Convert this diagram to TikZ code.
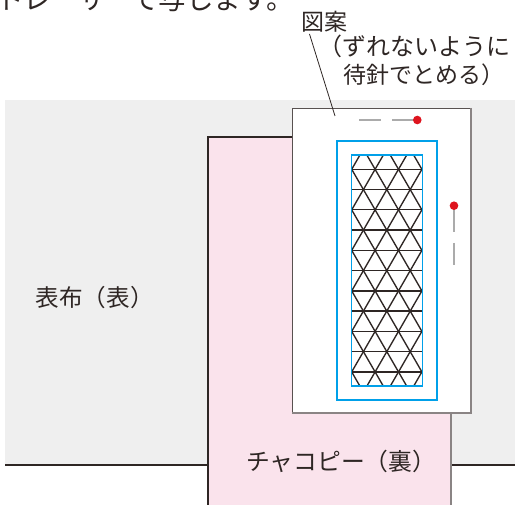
\documentclass[tikz,border=0pt]{standalone}
\usepackage{fontspec}
\setmainfont{Noto Sans CJK JP}
\definecolor{bggray}{HTML}{EFEFEF}
\definecolor{pinkfill}{HTML}{FAE3EC}
\definecolor{cyanline}{RGB}{0,160,233}
\definecolor{pinred}{RGB}{222,20,30}
\definecolor{pingray}{HTML}{ABABAB}
\definecolor{inkc}{HTML}{2E2624}
\definecolor{edgegray}{HTML}{8A8484}
\tikzset{
  gridline/.style={draw=inkc, line width=1.35pt},
  bluebox/.style={draw=cyanline, line width=1.4pt},
  pinline/.style={draw=pingray, line width=1.1pt},
  pinhead/.style={fill=pinred, draw=none},
  lbl/.style={inner sep=0pt, text=inkc, font=\fontsize{23}{27}\selectfont},
}
\begin{document}
\begin{tikzpicture}[x=1pt,y=-1pt]
\useasboundingbox (0,0) rectangle (515,505);
\begin{scope}
\clip (0,0) rectangle (515,505);
\node[lbl, anchor=base west, font=\fontsize{27.5}{30}\selectfont] (cut) at (-4,10) {トレーサーで写します。};
\end{scope}
% background fabric
\fill[bggray] (5,100) rectangle (515,465);
\draw[inkc, line width=2pt] (5,465) -- (515,465);
% chaco copy paper
\fill[pinkfill] (208,137) rectangle (451,506);
\draw[inkc, line width=1.2pt] (208,506) -- (208,137) -- (451,137);
\draw[edgegray, line width=1.5pt] (451,137) -- (451,506);
% pattern paper
\fill[white] (292,108) rectangle (471,413);
\draw[inkc!80, line width=0.8pt] (292,413) -- (292,108) -- (471,108);
\draw[edgegray, line width=1.8pt] (471,108) -- (471,413) -- (292,413);
% blue frames
\draw[bluebox] (337,141) rectangle (437,400);
\fill[white] (351.5,155) rectangle (422.5,386);
\begin{scope}
\clip (351.5,155) rectangle (422.5,386);
\foreach \k in {-1,...,11}
  \draw[gridline] (340,{169.3+\k*20.26}) -- (430,{169.3+\k*20.26});
\foreach \j in {-8,...,8} {
  \draw[gridline] ({351.7+\j*23.4-2*11.7},{169.3-2*20.26}) -- ({351.7+\j*23.4+12*11.7},{169.3+12*20.26});
  \draw[gridline] ({351.7+\j*23.4+2*11.7},{169.3-2*20.26}) -- ({351.7+\j*23.4-12*11.7},{169.3+12*20.26});
}
\end{scope}
\draw[bluebox] (351.5,155) rectangle (422.5,386);
% pins
\draw[pinline] (359,120) -- (381,120);
\draw[pinline] (392,120) -- (417,120);
\fill[pinhead] (417.3,120) circle (4.3);
\draw[pinline] (454,243) -- (454,265);
\draw[pinline] (454,206) -- (454,232);
\fill[pinhead] (454,205.7) circle (4.3);
% labels
\node[lbl, anchor=base west] (zuan) at (301,30.5) {図案};
\node[lbl, anchor=base east, font=\fontsize{24}{28}\selectfont] (note1) at (510.5,55.5) {（ずれないように};
\node[lbl, anchor=base west] (note2) at (343.5,83.5) {待針でとめる）};
\coordinate (leadA) at (309.5,34);
\coordinate (leadB) at (335,116);
\draw[inkc, line width=0.8pt] (leadA) -- (leadB);
\node[lbl, anchor=base west, font=\fontsize{23.6}{27}\selectfont] (omote) at (35.5,306.5) {表布（表）};
\node[lbl, anchor=base west, font=\fontsize{23.8}{27}\selectfont] (chaco) at (246,470.5) {チャコピー（裏）};
\end{tikzpicture}
\end{document}
